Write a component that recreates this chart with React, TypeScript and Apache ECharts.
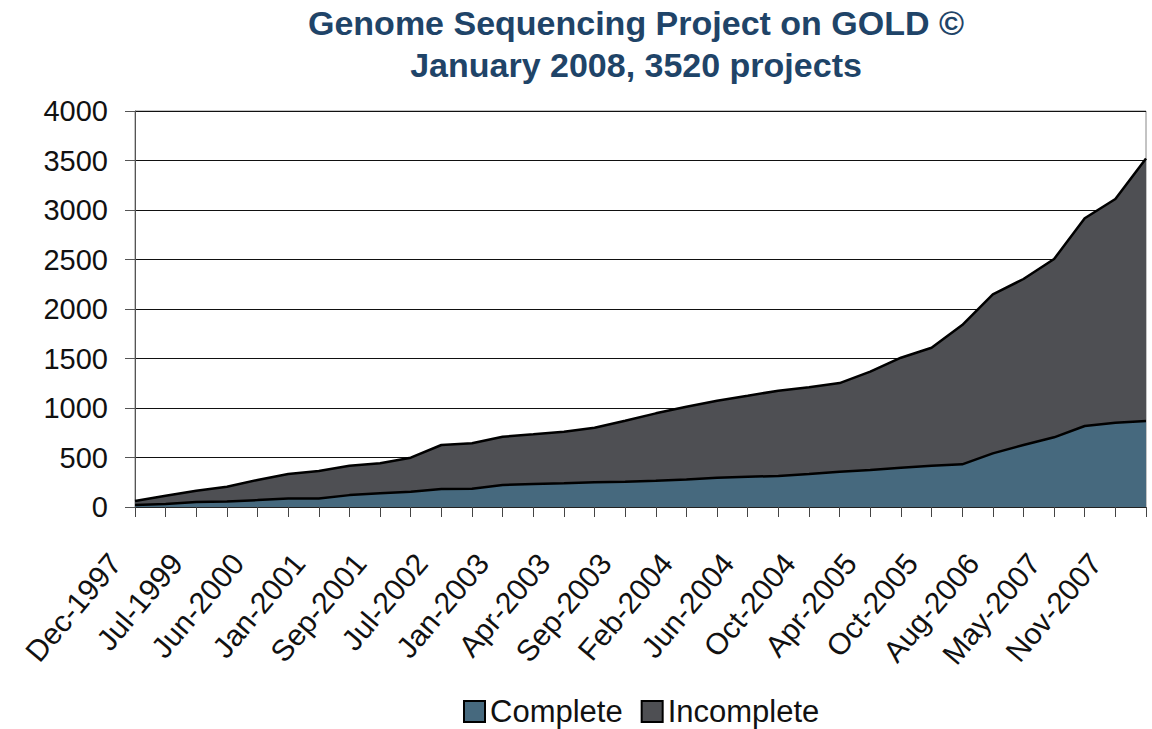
import React, { useEffect, useRef } from "react";
import * as echarts from "echarts";

const categories = [
  "Dec-1997", "Dec-1998", "Jul-1999", "Jan-2000", "Jun-2000", "Sep-2000",
  "Jan-2001", "May-2001", "Sep-2001", "Jan-2002", "Jul-2002", "Oct-2002",
  "Jan-2003", "Feb-2003", "Apr-2003", "Jun-2003", "Sep-2003", "Nov-2003",
  "Feb-2004", "Apr-2004", "Jun-2004", "Aug-2004", "Oct-2004", "Jan-2005",
  "Apr-2005", "Jul-2005", "Oct-2005", "Feb-2006", "Aug-2006", "Dec-2006",
  "May-2007", "Aug-2007", "Nov-2007", "Jan-2008",
];

const complete = [
  20, 30, 50, 55, 70, 87, 87, 120, 138, 155, 182, 185, 222, 232, 239, 249, 256,
  266, 279, 296, 306, 313, 333, 357, 374, 397, 417, 431, 542, 626, 704, 818, 851, 869,
];

const incomplete = [
  40, 84, 115, 150, 203, 246, 277, 297, 303, 343, 444, 458, 488, 502, 522, 552,
  616, 680, 734, 778, 818, 862, 876, 895, 993, 1111, 1192, 1407, 1606, 1677,
  1801, 2098, 2260, 2651,
];

const yTicks = { min: 0, max: 4000, interval: 500 };

const COMPLETE_COLOR = "#46697e";
const INCOMPLETE_COLOR = "#4e4f53";
const FONT = "'Liberation Sans', Arial, Helvetica, sans-serif";

export default function App() {
  const ref = useRef<HTMLDivElement>(null);
  useEffect(() => {
    if (!ref.current) return;
    const chart = echarts.init(ref.current, undefined, { renderer: "svg" });
    chart.setOption({
      animation: false,
      backgroundColor: "#ffffff",
      title: {
        text: "Genome Sequencing Project on GOLD ©\nJanuary 2008, 3520 projects",
        left: 636,
        top: 2,
        padding: 0,
        textAlign: "center",
        textStyle: {
          fontFamily: FONT,
          fontSize: 34,
          fontWeight: "bold",
          color: "#1f4468",
          lineHeight: 42,
        },
      },
      legend: {
        left: 463,
        top: 696,
        padding: 0,
        itemWidth: 21,
        itemHeight: 21,
        itemGap: 18,
        icon: "rect",
        itemStyle: { borderColor: "#000", borderWidth: 2 },
        textStyle: { fontFamily: FONT, fontSize: 31, color: "#111" },
        data: ["Complete", "Incomplete"],
      },
      grid: {
        left: 135,
        right: 6,
        top: 111,
        bottom: 222,
        show: true,
        borderColor: "#888",
        borderWidth: 1,
      },
      xAxis: {
        type: "category",
        data: categories,
        boundaryGap: false,
        axisLine: { lineStyle: { color: "#222", width: 1 } },
        axisTick: { show: true, interval: 0, length: 10, lineStyle: { color: "#444" } },
        axisLabel: {
          interval: 1,
          rotate: 50,
          margin: 27,
          align: "right",
          verticalAlign: "middle",
          padding: [0, 31, 0, 0],
          fontFamily: FONT,
          fontSize: 30,
          color: "#111",
        },
        splitLine: { show: false },
      },
      yAxis: {
        type: "value",
        min: yTicks.min,
        max: yTicks.max,
        interval: yTicks.interval,
        axisLine: { show: true, lineStyle: { color: "#555", width: 1 } },
        axisTick: { show: true, length: 10, lineStyle: { color: "#555" } },
        axisLabel: {
          margin: 27,
          fontFamily: FONT,
          fontSize: 29,
          color: "#111",
          formatter: (v: number) => String(v),
        },
        splitLine: { show: true, lineStyle: { color: "#111", width: 1 } },
      },
      series: [
        {
          name: "Complete",
          type: "line",
          stack: "total",
          data: complete,
          showSymbol: false,
          symbol: "none",
          itemStyle: { color: COMPLETE_COLOR },
          lineStyle: { color: "#000", width: 2.5 },
          areaStyle: { color: COMPLETE_COLOR, opacity: 1 },
        },
        {
          name: "Incomplete",
          type: "line",
          stack: "total",
          data: incomplete,
          showSymbol: false,
          symbol: "none",
          itemStyle: { color: INCOMPLETE_COLOR },
          lineStyle: { color: "#000", width: 2.5 },
          areaStyle: { color: INCOMPLETE_COLOR, opacity: 1 },
        },
      ],
    });
    return () => chart.dispose();
  }, []);
  return <div ref={ref} style={{ width: 1152, height: 729, position: "absolute", left: 0, top: 0 }} />;
}
